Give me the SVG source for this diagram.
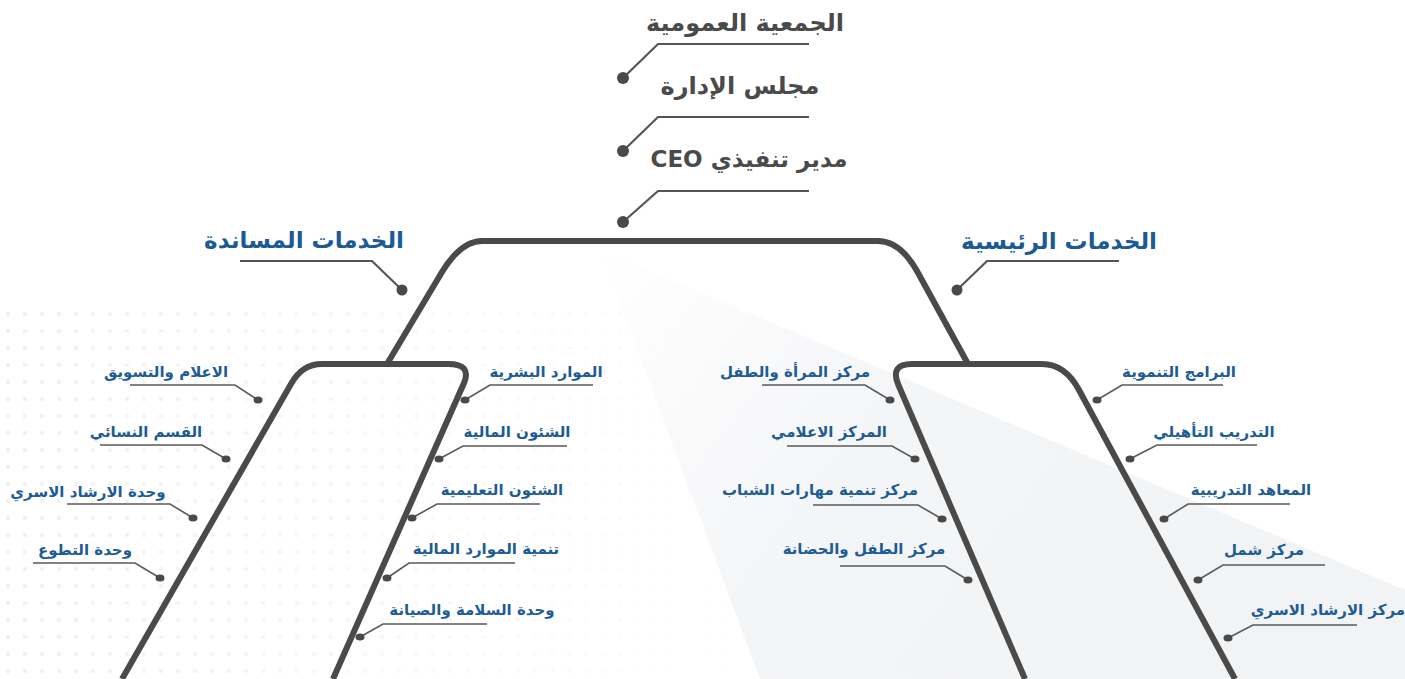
<svg xmlns="http://www.w3.org/2000/svg" width="1405" height="679" viewBox="0 0 1405 679">
<defs>
<style>
.trunk{fill:none;stroke:#4a4a4a;stroke-width:6;stroke-linecap:butt;stroke-linejoin:round}
.lead{fill:none;stroke:#5a5a5a;stroke-width:1.6}
.lead2{fill:none;stroke:#555;stroke-width:2.2}
.dot{fill:#4a4a4a}
text{direction:rtl;unicode-bidi:embed}
.top{font-family:"DejaVu Sans",sans-serif;font-weight:bold;font-size:24px;fill:#4a4a4a;text-anchor:middle}
.head{font-family:"DejaVu Sans",sans-serif;font-weight:bold;font-size:23px;fill:#1b5a94;text-anchor:middle}
.leaf{font-family:"DejaVu Sans",sans-serif;font-weight:bold;font-size:15px;fill:#1d5c95;text-anchor:middle}
</style>
<pattern id="dots" width="17" height="17" patternUnits="userSpaceOnUse">
<circle cx="8" cy="8" r="2.3" fill="#f0f1f2"/>
</pattern>
<linearGradient id="fade" x1="0" y1="0" x2="1" y2="0">
<stop offset="0" stop-color="#fff" stop-opacity="1"/>
<stop offset="1" stop-color="#fff" stop-opacity="0"/>
</linearGradient>
<mask id="dm"><rect x="0" y="0" width="760" height="679" fill="url(#fade)"/></mask>
<linearGradient id="gray" x1="0" y1="0" x2="1" y2="0.4">
<stop offset="0" stop-color="#f3f4f6" stop-opacity="0"/>
<stop offset="0.45" stop-color="#f3f4f6" stop-opacity="0.9"/>
<stop offset="1" stop-color="#f2f3f5" stop-opacity="1"/>
</linearGradient>
</defs>
<rect width="1405" height="679" fill="#ffffff"/>
<polygon points="600,250 1405,590 1405,679 760,679" fill="url(#gray)"/>
<rect x="0" y="300" width="760" height="379" fill="url(#dots)" mask="url(#dm)"/>

<g id="connectors">
<path class="trunk" d="M387,364 L442,272 Q461,241 482,241 L878,241 Q900,241 917,271 L968,364"/>
<path class="trunk" d="M122,679 L291,384 Q302,364 322,364 L448,364 Q472,364 464,383 L333,679"/>
<path class="trunk" d="M1025,679 L898,384 Q890,364 912,364 L1042,364 Q1065,364 1079,390 L1235,679"/>
<path class="lead2" d="M809,44 L658,44 L623,78"/>
<path class="lead2" d="M809,117 L658,117 L623,151"/>
<path class="lead2" d="M809,191 L658,191 L623,222"/>
<path class="lead2" d="M240,261 L372,261 L402,290"/>
<path class="lead2" d="M957,290 L987,261 L1119,261"/>
<path class="lead" d="M130,385 L235,385 L258,400"/>
<path class="lead" d="M100,445 L202,445 L226,459"/>
<path class="lead" d="M67,504 L170,504 L193,518"/>
<path class="lead" d="M33,563 L135,563 L160,578"/>
<path class="lead" d="M465,400 L490,385 L593,385"/>
<path class="lead" d="M439,459 L463,446 L567,446"/>
<path class="lead" d="M412,518 L437,504 L540,504"/>
<path class="lead" d="M387,578 L409,563 L515,563"/>
<path class="lead" d="M360,637 L383,624 L487,624"/>
<path class="lead" d="M762,385 L865,385 L890,400"/>
<path class="lead" d="M787,446 L892,446 L915,459"/>
<path class="lead" d="M813,505 L918,505 L942,519"/>
<path class="lead" d="M840,566 L945,566 L968,580"/>
<path class="lead" d="M1097,400 L1122,385 L1223,385"/>
<path class="lead" d="M1130,459 L1157,445 L1257,445"/>
<path class="lead" d="M1164,519 L1188,504 L1290,504"/>
<path class="lead" d="M1198,580 L1223,565 L1325,565"/>
<path class="lead" d="M1228,638 L1253,625 L1357,625"/>
</g>

<g id="general-assembly"><text class="top" x="745" y="31">الجمعية العمومية</text><circle class="dot" cx="623" cy="78" r="6"/></g>
<g id="board"><text class="top" x="740" y="94">مجلس الإدارة</text><circle class="dot" cx="623" cy="151" r="6"/></g>
<g id="ceo"><text class="top" x="749" y="167" style="font-size:23px">مدير تنفيذي CEO</text><circle class="dot" cx="623" cy="222" r="6"/></g>

<g id="support-services"><text class="head" x="304" y="248">الخدمات المساندة</text><circle class="dot" cx="402" cy="290" r="5.5"/></g>
<g id="main-services"><text class="head" x="1059" y="249">الخدمات الرئيسية</text><circle class="dot" cx="957" cy="290" r="5.5"/></g>

<g id="media-marketing"><text class="leaf" x="166" y="377">الاعلام والتسويق</text><ellipse class="dot" cx="258" cy="400" rx="4.5" ry="3.5"/></g>
<g id="women-section"><text class="leaf" x="146" y="437">القسم النسائي</text><ellipse class="dot" cx="226" cy="459" rx="4.5" ry="3.5"/></g>
<g id="family-guidance-unit"><text class="leaf" x="88" y="497">وحدة الارشاد الاسري</text><ellipse class="dot" cx="193" cy="518" rx="4.5" ry="3.5"/></g>
<g id="volunteer-unit"><text class="leaf" x="85" y="555">وحدة التطوع</text><ellipse class="dot" cx="160" cy="578" rx="4.5" ry="3.5"/></g>

<g id="hr"><text class="leaf" x="546" y="377">الموارد البشرية</text><ellipse class="dot" cx="465" cy="400" rx="4.5" ry="3.5"/></g>
<g id="finance"><text class="leaf" x="517" y="437">الشئون المالية</text><ellipse class="dot" cx="439" cy="459" rx="4.5" ry="3.5"/></g>
<g id="education"><text class="leaf" x="502" y="495">الشئون التعليمية</text><ellipse class="dot" cx="412" cy="518" rx="4.5" ry="3.5"/></g>
<g id="fundraising"><text class="leaf" x="486" y="554">تنمية الموارد المالية</text><ellipse class="dot" cx="387" cy="578" rx="4.5" ry="3.5"/></g>
<g id="safety-maintenance"><text class="leaf" x="472" y="615">وحدة السلامة والصيانة</text><ellipse class="dot" cx="360" cy="637" rx="4.5" ry="3.5"/></g>

<g id="women-child-center"><text class="leaf" x="795" y="377">مركز المرأة والطفل</text><ellipse class="dot" cx="890" cy="400" rx="4.5" ry="3.5"/></g>
<g id="media-center"><text class="leaf" x="829" y="437">المركز الاعلامي</text><ellipse class="dot" cx="915" cy="459" rx="4.5" ry="3.5"/></g>
<g id="youth-skills-center"><text class="leaf" x="820" y="495">مركز تنمية مهارات الشباب</text><ellipse class="dot" cx="942" cy="519" rx="4.5" ry="3.5"/></g>
<g id="child-nursery-center"><text class="leaf" x="864" y="554">مركز الطفل والحضانة</text><ellipse class="dot" cx="968" cy="580" rx="4.5" ry="3.5"/></g>

<g id="development-programs"><text class="leaf" x="1179" y="377">البرامج التنموية</text><ellipse class="dot" cx="1097" cy="400" rx="4.5" ry="3.5"/></g>
<g id="rehab-training"><text class="leaf" x="1214" y="437">التدريب التأهيلي</text><ellipse class="dot" cx="1130" cy="459" rx="4.5" ry="3.5"/></g>
<g id="training-institutes"><text class="leaf" x="1251" y="495">المعاهد التدريبية</text><ellipse class="dot" cx="1164" cy="519" rx="4.5" ry="3.5"/></g>
<g id="shamel-center"><text class="leaf" x="1264" y="555">مركز شمل</text><ellipse class="dot" cx="1198" cy="580" rx="4.5" ry="3.5"/></g>
<g id="family-guidance-center"><text class="leaf" x="1328" y="615">مركز الارشاد الاسري</text><ellipse class="dot" cx="1228" cy="638" rx="4.5" ry="3.5"/></g>
</svg>
